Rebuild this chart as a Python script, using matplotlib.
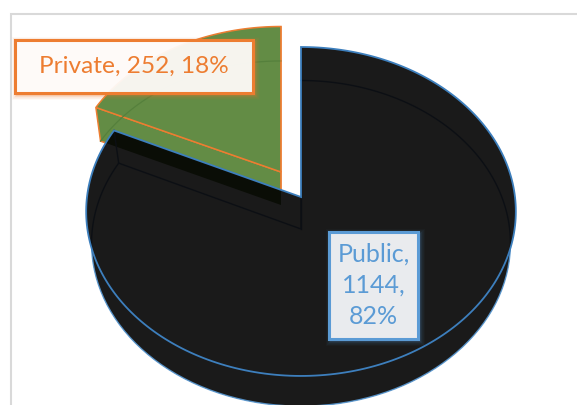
import numpy as np
import matplotlib
matplotlib.use("Agg")
import matplotlib.pyplot as plt
from matplotlib.patches import Polygon, Rectangle

categories = ["Private", "Public"]
values = [252, 1144]
percents = [18, 82]

W, H = 577, 405
BLUE = "#5b9bd5"
ORANGE = "#ed7d31"
GREEN = "#638c45"
DARK = "#1a1a1a"

fig = plt.figure(figsize=(W / 100, H / 100), dpi=100)
ax = fig.add_axes([0, 0, 1, 1])
ax.set_xlim(0, W)
ax.set_ylim(H, 0)
ax.axis("off")

plt.rcParams["font.family"] = ["Lato", "DejaVu Sans"]

# chart frame
ax.add_patch(Rectangle((10.5, 13.5), W + 20, H + 20, fc="white", ec="#d9d9d9", lw=1.5, zorder=0))

K = -0.088


def project(theta, vertex, sx, sy):
    """Perspective projection of a pie circle; theta clockwise from 12 o'clock (radians)."""
    u, v = np.sin(theta), -np.cos(theta)
    w = 1 + K * v
    return vertex[0] + sx * 214 * u / w, vertex[1] + sy * 163.2 * v / w


def sector(start, end, vertex, sx=1.0, sy=1.0):
    t = np.linspace(start, end, 240)
    x, y = project(t, vertex, sx, sy)
    return np.column_stack([x, y])


total = sum(values)
private_sweep = 2 * np.pi * values[0] / total
# Private occupies the angles just before 12 o'clock, Public all the rest
priv_start, priv_end = 2 * np.pi - private_sweep, 2 * np.pi
pub_start, pub_end = 0.0, 2 * np.pi - private_sweep

PUB_TOP = (301, 197)
PUB_LOW = (301, 229)
PRI_TOP = (281, 172)
PRI_LOW = (281, 205)
LOW_X, LOW_Y = 0.975, 0.99
PRI_SX, PRI_SY = 0.99, 0.97

# --- Private wedge (exploded) ---
pt = sector(priv_start, priv_end, PRI_TOP, PRI_SX, PRI_SY)
pl = sector(priv_start, priv_end, PRI_LOW, PRI_SX * LOW_X, PRI_SY * LOW_Y)
side = np.array([pt[0], pl[0], PRI_LOW, PRI_TOP])
ax.add_patch(Polygon(side, closed=True, fc=GREEN, ec=ORANGE, lw=1.1, zorder=2))
ax.add_patch(Polygon(np.vstack([[PRI_TOP], pt]), closed=True, fc=GREEN, ec=ORANGE, lw=1.1, zorder=2, joinstyle="miter"))
ax.plot(pl[:, 0], pl[:, 1], color="#55803c", lw=0.9, zorder=3)
ax.plot([pt[-1, 0], PRI_LOW[0]], [pt[-1, 1], PRI_LOW[1]], color=ORANGE, lw=1.1, alpha=0.7, zorder=3)

# --- Public wedge ---
ut = sector(pub_start, pub_end, PUB_TOP)
ul = sector(pub_start, pub_end, PUB_LOW, LOW_X, LOW_Y)
top_poly = np.vstack([[PUB_TOP], ut])
low_poly = np.vstack([[PUB_LOW], ul])
wall = np.vstack([ut, ul[::-1]])
notch = np.array([PUB_TOP, ut[-1], ul[-1], PUB_LOW])
for poly in (low_poly, wall, notch):
    ax.add_patch(Polygon(poly, closed=True, fc=DARK, ec="none", zorder=4))
ax.plot(ul[:, 0], ul[:, 1], color=BLUE, lw=1.0, zorder=4.1, alpha=0.9)
ax.add_patch(Polygon(top_poly, closed=True, fc=DARK, ec="none", zorder=5))

# Private side wall showing through the Public top
clip = Polygon(top_poly, closed=True, transform=ax.transData)
shade = Polygon(side, closed=True, fc="#0a0d06", ec="none", zorder=5.1)
ax.add_patch(shade)
shade.set_clip_path(clip)

# faint lower surface seen through the top
faint = Polygon(low_poly, closed=True, fc="none", ec="#0c0f14", lw=1.0, zorder=5.2)
ax.add_patch(faint)
faint.set_clip_path(clip)
ax.plot([ut[-1, 0], ul[-1, 0]], [ut[-1, 1], ul[-1, 1]], color="#0c0f14", lw=1.0, zorder=5.2)
ax.plot([PUB_TOP[0], PUB_LOW[0]], [PUB_TOP[1], PUB_LOW[1]], color="#0c0f14", lw=1.0, zorder=5.2)
ax.add_patch(Polygon(top_poly, closed=True, fc="none", ec="#3d7fbd", lw=1.3, zorder=5.3, joinstyle="miter"))


def label_box(x0, y0, x1, y1, fc, alpha, ec, text, size, glow):
    for i, a in zip(range(9, 0, -1), np.linspace(0.015, glow, 9)):
        ax.add_patch(Rectangle((x0 + 2 - i * 0.6, y0 + 2 - i * 0.6),
                               x1 - x0 + i * 1.2, y1 - y0 + i * 1.2,
                               fc=ec, ec="none", alpha=a, zorder=6))
    ax.add_patch(Rectangle((x0, y0), x1 - x0, y1 - y0, fc=fc, alpha=alpha, ec="none", zorder=7))
    ax.add_patch(Rectangle((x0, y0), x1 - x0, y1 - y0, fc="none", ec=ec, lw=2.2, zorder=8))
    ax.text((x0 + x1) / 2, (y0 + y1) / 2, text, color=ec, fontsize=size, ha="center",
            va="center", linespacing=1.42, zorder=9, family=["Lato", "DejaVu Sans"])


label_box(15, 40, 253, 93, "white", 0.92, ORANGE,
          f"{categories[0]}, {values[0]}, {percents[0]}%", 17.6, 0.09)
label_box(329, 232, 418, 339, "#e9ebee", 1.0, BLUE,
          f"{categories[1]},\n{values[1]},\n{percents[1]}%", 18, 0.06)

fig.savefig("out.png", dpi=100)
